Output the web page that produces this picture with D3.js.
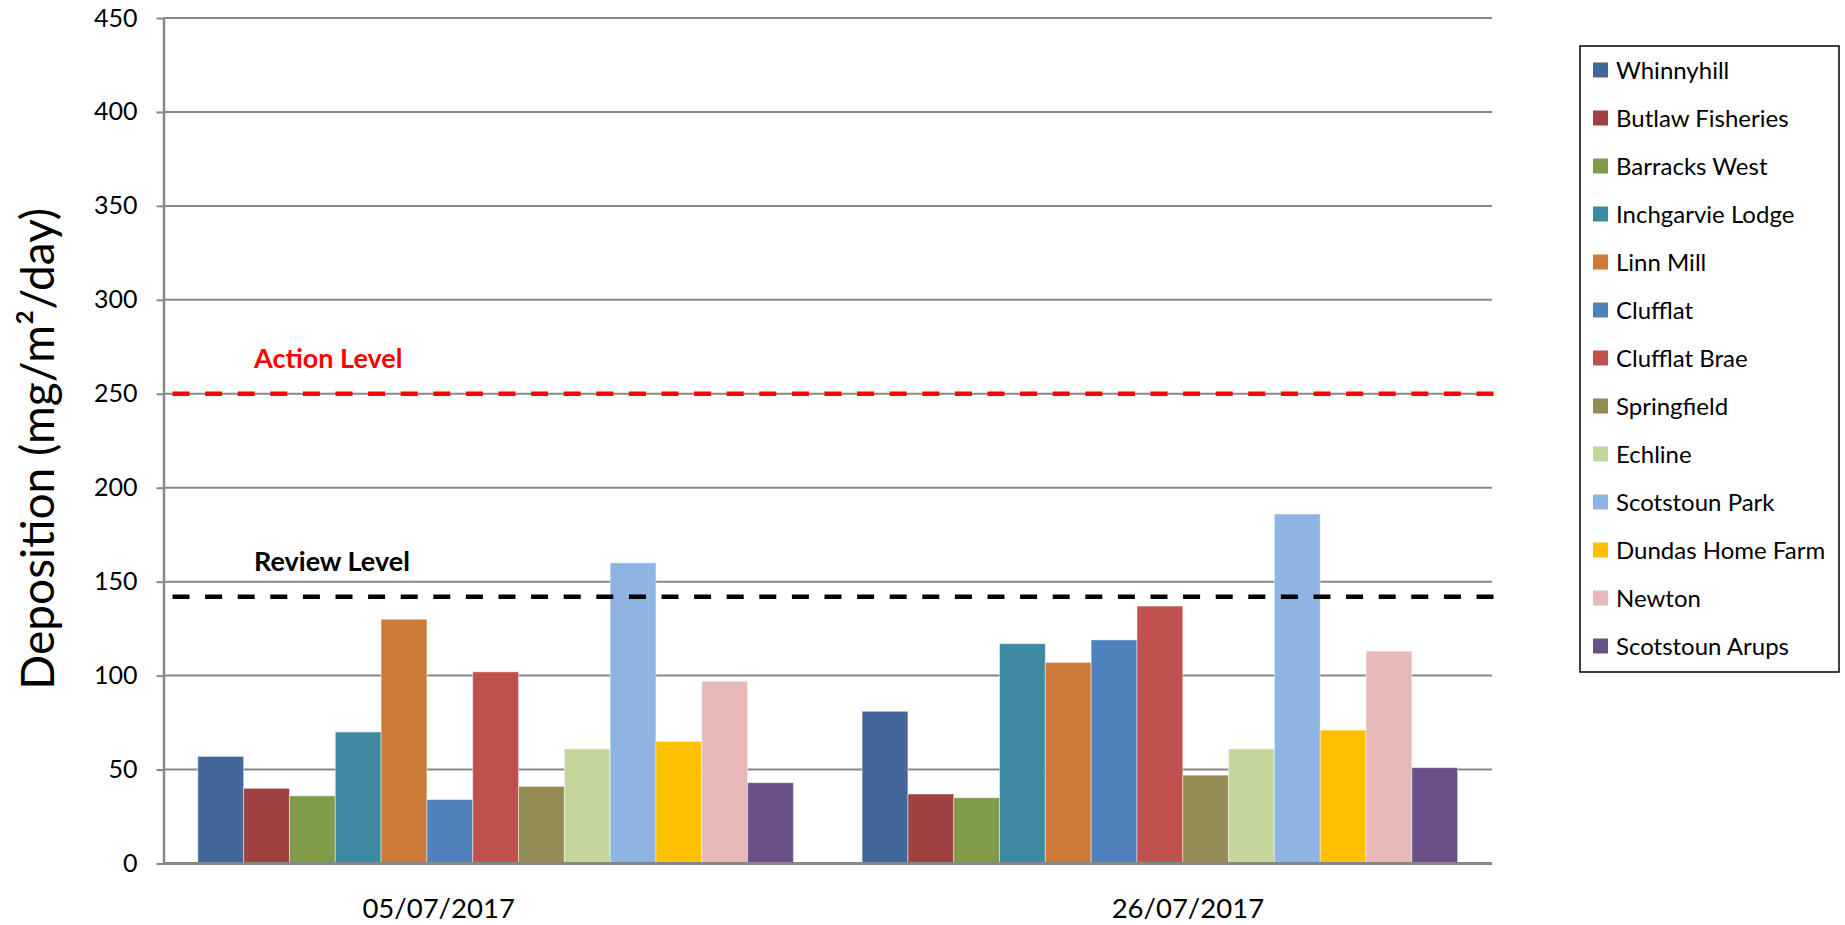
<!DOCTYPE html>
<html>
<head>
<meta charset="utf-8">
<script src="https://cdn.jsdelivr.net/npm/d3@7"></script>
<style>
  body { margin: 0; background: #fff; }
  svg { display: block; font-family: Lato, "Open Sans", sans-serif; }
</style>
</head>
<body>
<div id="chart"></div>
<script>
let sites = ["Whinnyhill", "Butlaw Fisheries", "Barracks West", "Inchgarvie Lodge", "Linn Mill", "Clufflat",
  "Clufflat Brae", "Springfield", "Echline", "Scotstoun Park", "Dundas Home Farm", "Newton", "Scotstoun Arups"];
let dates = ["05/07/2017", "26/07/2017"];
let july05 = [57, 40, 36, 70, 130, 34, 102, 41, 61, 160, 65, 97, 43];
let july26 = [81, 37, 35, 117, 107, 119, 137, 47, 61, 186, 71, 113, 51];
let colours = ["#416898", "#9e4140", "#7f9a48", "#3d8ba2", "#cb7a39", "#4f81bd", "#c0504d",
  "#948a54", "#c4d79b", "#8eb4e3", "#ffc000", "#e6b9b8", "#6a5087"];
let yTicks = [0, 50, 100, 150, 200, 250, 300, 350, 400, 450];
let actionLevel = 250, reviewLevel = 142;

let W = 1845, H = 925;
let margin = { top: 18, right: 353, bottom: 61.5, left: 163.5 };
let gridCol = "#878787";

let svg = d3.select("#chart").append("svg")
  .attr("width", W)
  .attr("height", H);

let rows = dates.map((d, i) => {
  let vals = i == 0 ? july05 : july26;
  return { date: d, values: sites.map((s, j) => ({ site: s, value: vals[j] })) };
});

var x0 = d3.scaleBand()
  .domain(dates)
  .range([margin.left, W - margin.right])
  .paddingInner(0.1034)
  .paddingOuter(0.0517);

var x1 = d3.scaleBand()
  .domain(sites)
  .range([0, x0.bandwidth()]);

var y = d3.scaleLinear()
  .domain([0, 450])
  .range([H - margin.bottom, margin.top]);

var colour = d3.scaleOrdinal().domain(sites).range(colours);

// horizontal gridlines
svg.append("g")
  .selectAll("line")
  .data(yTicks.filter(t => t > 0))
  .enter().append("line")
  .attr("x1", margin.left)
  .attr("x2", W - margin.right)
  .attr("y1", d => y(d))
  .attr("y2", d => y(d))
  .attr("stroke", gridCol)
  .attr("stroke-width", 2);

// bars
var groups = svg.append("g")
  .selectAll("g")
  .data(rows)
  .enter().append("g")
  .attr("transform", d => "translate(" + x0(d.date) + ",0)");

groups.selectAll("rect")
  .data(d => d.values)
  .enter().append("rect")
  .attr("x", d => x1(d.site))
  .attr("width", x1.bandwidth())
  .attr("y", d => y(d.value))
  .attr("height", d => y(0) - y(d.value))
  .attr("fill", d => colour(d.site))
  .attr("stroke", "rgba(255,255,255,0.45)")
  .attr("stroke-width", 1);

// y axis
var yAxis = d3.axisLeft(y)
  .tickValues(yTicks)
  .tickSize(7)
  .tickSizeOuter(0)
  .tickPadding(19);

var yg = svg.append("g")
  .attr("transform", "translate(" + margin.left + ",0)")
  .call(yAxis);
yg.select(".domain").attr("stroke", gridCol).attr("stroke-width", 2.5);
yg.selectAll(".tick line").attr("stroke", gridCol).attr("stroke-width", 2);
yg.selectAll(".tick text")
  .attr("fill", "#000")
  .style("font-size", "25px")
  .style("font-family", "Lato");

// x axis baseline
svg.append("line")
  .attr("x1", margin.left)
  .attr("x2", W - margin.right)
  .attr("y1", y(0))
  .attr("y2", y(0))
  .attr("stroke", gridCol)
  .attr("stroke-width", 3);

// category labels (the original sits them a little off centre)
let labelShift = { "05/07/2017": -57, "26/07/2017": 28 };
svg.append("g")
  .selectAll("text")
  .data(dates)
  .enter().append("text")
  .attr("x", d => x0(d) + x0.bandwidth() / 2 + labelShift[d])
  .attr("y", 918)
  .attr("text-anchor", "middle")
  .style("font-size", "27.5px")
  .text(d => d);

// y axis title
svg.append("text")
  .attr("transform", "translate(54," + (margin.top + (H - margin.bottom - margin.top) / 2 + 8) + ") rotate(-90)")
  .attr("text-anchor", "middle")
  .style("font-size", "46px")
  .text("Deposition (mg/m\u00B2/day)");

// action and review levels
let levels = [
  { name: "Action Level", value: actionLevel, col: "#ff0000" },
  { name: "Review Level", value: reviewLevel, col: "#000000" }
];

svg.append("g")
  .selectAll("line")
  .data(levels)
  .enter().append("line")
  .attr("x1", margin.left + 9)
  .attr("x2", W - margin.right + 5)
  .attr("y1", d => y(d.value))
  .attr("y2", d => y(d.value))
  .attr("stroke", d => d.col)
  .attr("stroke-width", 4.5)
  .attr("stroke-dasharray", "17,15.6");

svg.append("g")
  .selectAll("text")
  .data(levels)
  .enter().append("text")
  .attr("x", 254)
  .attr("y", d => y(d.value) - 26)
  .attr("fill", d => d.col)
  .style("font-size", "27px")
  .style("font-weight", "bold")
  .text(d => d.name);

// legend
var legend = svg.append("g").attr("transform", "translate(1580,46)");
legend.append("rect")
  .attr("width", 259)
  .attr("height", 626)
  .attr("fill", "#fff")
  .attr("stroke", "#000")
  .attr("stroke-width", 1.5);

var item = legend.selectAll(".item")
  .data(sites)
  .enter().append("g")
  .attr("class", "item")
  .attr("transform", (d, i) => "translate(0," + (24 + i * 48) + ")");

item.append("rect")
  .attr("x", 13)
  .attr("y", -7.5)
  .attr("width", 15)
  .attr("height", 15)
  .attr("fill", d => colour(d));

item.append("text")
  .attr("x", 36)
  .attr("y", 8.5)
  .style("font-size", "24px")
  .text(d => d);
</script>
</body>
</html>
